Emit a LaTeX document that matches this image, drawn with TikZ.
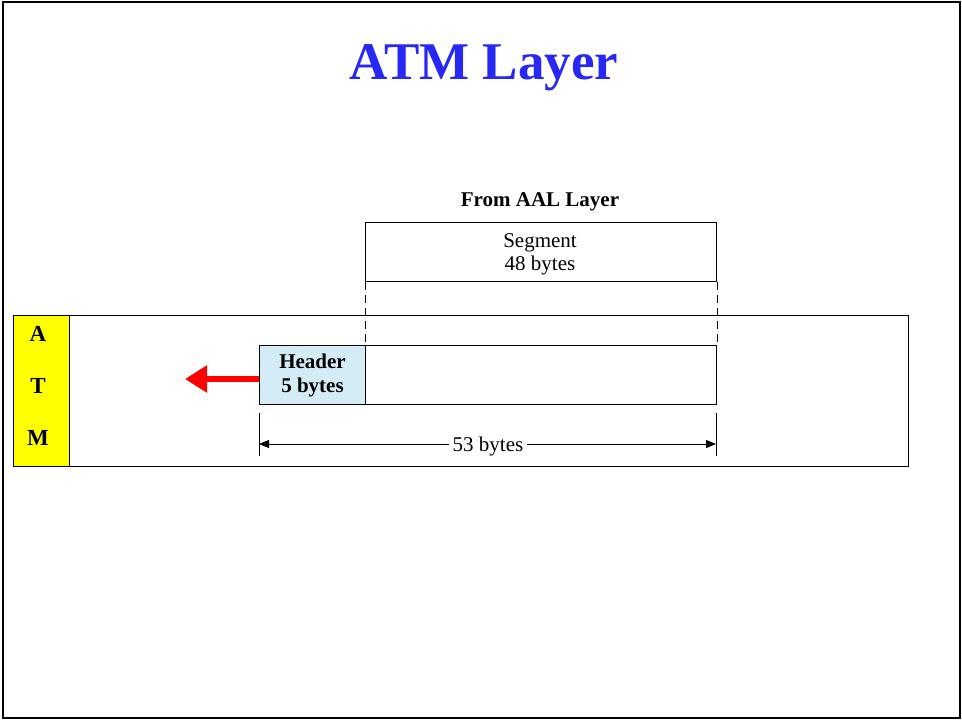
\documentclass[tikz,border=0pt]{standalone}
\usepackage{fontspec}
\setmainfont{Liberation Serif}
\usetikzlibrary{positioning,arrows.meta,calc}

\definecolor{titleblue}{RGB}{40,40,245}
\definecolor{headerblue}{RGB}{212,236,246}
\definecolor{atmyellow}{RGB}{255,255,0}

\begin{document}
\begin{tikzpicture}[
    x=1pt, y=-1pt,
    field/.style={rectangle, draw, line width=1pt, inner sep=0pt, align=center, font=\fontsize{21}{24}\selectfont},
    dimline/.style={line width=0.9pt},
    arrow/.style={-{Triangle[length=10pt,width=8pt]}, line width=0.9pt},
    letter/.style={font=\fontsize{23}{26}\selectfont\bfseries},
]
    % Slide frame
    \useasboundingbox (0,0) rectangle (962,720);
    \draw[line width=2pt] (3,2) rectangle (960,718);

    % Title
    \node[text=titleblue, font=\fontsize{53}{60}\selectfont\bfseries] (title) at (484,68) {ATM Layer};

    % ATM band with yellow label column
    \draw[line width=1pt] (13,315) rectangle (908,466);
    \node[field, fill=atmyellow, minimum width=56pt, minimum height=151pt] (atm) at (41,390.5) {};
    \node[letter] (la) at (38,334) {A};
    \node[letter] (lt) at (38,386) {T};
    \node[letter] (lm) at (38,438) {M};

    % Segment from the AAL layer
    \node[font=\fontsize{21}{24}\selectfont\bfseries] (from) at (540,202) {From AAL Layer};
    \node[field, minimum width=351pt, minimum height=59pt, anchor=north west] (segment) at (365,222) {};
    \node[font=\fontsize{21}{23}\selectfont, align=center] (segtext) at (540,254) {Segment\\48 bytes};

    % Cell: header and payload
    \node[field, fill=headerblue, minimum width=106pt, minimum height=59pt, anchor=north west,
          font=\fontsize{21}{24}\selectfont\bfseries] (header) at (259,345) {Header\\5 bytes};
    \node[field, minimum width=351pt, minimum height=59pt, anchor=north west] (payload) at (365,345) {};

    % Dashed guides
    \draw[line width=1pt, dash pattern=on 8pt off 5pt] (segment.south west) -- (payload.north west);
    \draw[line width=1pt, dash pattern=on 8pt off 5pt] (segment.south east) -- (payload.north east);

    % Red arrow to the physical layer
    \coordinate (out) at (185,379);
    \draw[-{Triangle[length=22pt,width=26pt]}, line width=6pt, red] (header.west |- out) -- (out);

    % Cell length
    \coordinate (tl1) at (259,413);
    \coordinate (tl2) at (259,456);
    \coordinate (tr1) at (716,413);
    \coordinate (tr2) at (716,456);
    \coordinate (al) at (259,444);
    \coordinate (ar) at (716,444);
    \draw[dimline] (tl1) -- (tl2);
    \draw[dimline] (tr1) -- (tr2);
    \node[inner xsep=4pt, font=\fontsize{21}{24}\selectfont] (len) at (488,446) {53 bytes};
    \draw[arrow] (len.west |- al) -- (al);
    \draw[arrow] (len.east |- ar) -- (ar);
\end{tikzpicture}
\end{document}
